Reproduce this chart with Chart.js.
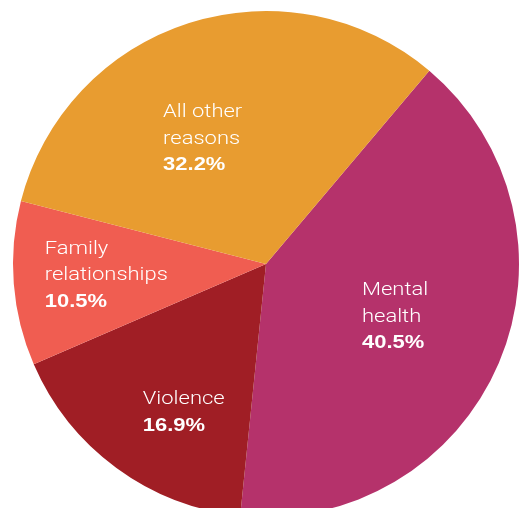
<!DOCTYPE html>
<html>
<head>
<meta charset="utf-8">
<script src="https://cdn.jsdelivr.net/npm/chart.js@4.4.0/dist/chart.umd.min.js"></script>
<style>
  html, body { margin: 0; padding: 0; background: #fff; overflow: hidden; }
  #wrap { position: absolute; left: 0; top: 0; width: 532px; height: 528px; }
</style>
</head>
<body>
<div id="wrap"><canvas id="myChart" width="532" height="528"></canvas></div>
<script>
// data, clockwise from the top-right cut
const categories = [['Mental', 'health'], ['Violence'], ['Family', 'relationships'], ['All other', 'reasons']];
const shares = [40.5, 16.9, 10.5, 32.2];
const colores = ['#B5326B', '#A01E25', '#F05D51', '#E89C30'];

// little nudges for the text blocks (px, from the slice mid point)
const nudges = [[1, -4], [0, 34], [-21, -2], [-21, 5]];

const fontLight = '300 18px Roboto';
const fontBold = 'bold 18px "Liberation Sans"';
const stretch = 1.22; // the original type is set wide

const labelPlugin = {
    id: 'sliceLabels',
    afterDatasetsDraw(chart) {
        const ctx = chart.ctx;
        const arcs = chart.getDatasetMeta(0).data;
        arcs.forEach(function (arc, i) {
            const mid = (arc.startAngle + arc.endAngle) / 2;
            const r = arc.outerRadius * 0.55;
            const cx = arc.x + Math.cos(mid) * r + nudges[i][0];
            const cy = arc.y + Math.sin(mid) * r + nudges[i][1];
            const lines = categories[i];
            const pct = shares[i].toFixed(1) + '%';
            const lh = 26.5;

            ctx.save();
            ctx.fillStyle = '#fff';
            ctx.textBaseline = 'alphabetic';
            ctx.textAlign = 'left';
            // widest line decides the left edge
            ctx.font = fontLight;
            let w = 0;
            lines.forEach(function (t) { w = Math.max(w, ctx.measureText(t).width); });
            ctx.font = fontBold;
            w = Math.max(w, ctx.measureText(pct).width) * stretch;
            const total = lh * lines.length + 13.5;
            const left = cx - w / 2;
            let y = cy - total / 2 + 14;
            ctx.translate(left, 0);
            ctx.scale(stretch, 1);
            ctx.font = fontLight;
            lines.forEach(function (t) {
                ctx.fillText(t, 0, y);
                y += lh;
            });
            ctx.font = fontBold;
            ctx.fillText(pct, 0, y);
            ctx.restore();
        });
    }
};

new Chart(document.getElementById('myChart'), {
    type: 'pie',
    data: {
        labels: categories.map(function (c) { return c.join(' '); }),
        datasets: [{
            data: shares,
            backgroundColor: colores,
            borderWidth: 0,
            hoverOffset: 0
        }]
    },
    options: {
        responsive: false,
        animation: false,
        rotation: 40.2,
        layout: { padding: { left: 13, right: 13, top: 11, bottom: 11 } },
        plugins: {
            legend: { display: false },
            tooltip: { enabled: false }
        }
    },
    plugins: [labelPlugin]
});
</script>
</body>
</html>
